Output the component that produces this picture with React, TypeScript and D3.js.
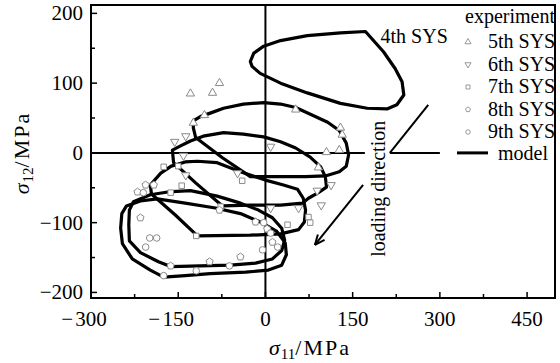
import React, { useEffect, useRef } from 'react';
import * as d3 from 'd3';

// model yield surfaces, [sigma11, sigma12] in MPa
const sys4 = [[172, 174], [129, 172], [72, 168], [26, 161], [-3, 153], [-20, 143], [-26, 131], [-23, 124], [-9, 114], [26, 100], [72, 86], [129, 71], [175, 64], [209, 63], [226, 69], [238, 83], [235, 102], [223, 121], [203, 145]];
const sys5 = [[-124, 46], [-112, 52], [-95, 57], [-72, 64], [-38, 70], [-3, 72], [26, 70], [52, 65], [81, 54], [107, 44], [127, 32], [139, 14], [143, -3], [139, -19], [127, -27], [103, -33], [69, -34], [26, -34], [-26, -34], [-74, -7], [-120, 22], [-124, 36]];
const sys6 = [[-160, 4], [-146, 10], [-129, 17], [-107, 24], [-72, 29], [-38, 27], [-3, 23], [26, 16], [52, 7], [77, -6], [95, -20], [103, -34], [105, -49], [91, -57], [74, -65], [64, -72], [26, -75], [-26, -75], [-74, -76], [-120, -43], [-158, -14]];
const sys7 = [[-162, -19], [-138, -13], [-117, -12], [-83, -14], [-43, -27], [0, -39], [31, -46], [55, -52], [65, -65], [69, -82], [67, -99], [57, -110], [26, -116], [-26, -118], [-117, -119], [-155, -89], [-196, -59], [-198, -46], [-180, -29]];
const sys8 = [[-227, -70], [-198, -60], [-168, -56], [-129, -54], [-83, -62], [-43, -72], [-12, -82], [12, -93], [28, -108], [33, -125], [28, -140], [12, -152], [-17, -158], [-60, -161], [-112, -162], [-163, -163], [-184, -156], [-215, -143], [-234, -126], [-235, -103], [-234, -82]];
const sys9 = [[-239, -76], [-215, -69], [-186, -66], [-138, -72], [-86, -79], [-43, -87], [-9, -99], [19, -112], [34, -129], [36, -146], [28, -161], [5, -168], [-34, -171], [-95, -173], [-138, -176], [-175, -178], [-198, -168], [-229, -152], [-246, -130], [-249, -108], [-247, -87]];

// experiment points
const exp5 = [[-129, 85], [-91, 86], [-79, 100], [-124, 43], [-105, 54], [52, 62], [129, 36], [132, 26], [127, 4], [105, 1], [91, -21]];
const exp6 = [[-137, 24], [-156, 16], [-141, -4], [9, 9], [89, -54], [113, -46], [96, -75], [57, -79], [9, -79], [-137, -32], [-48, -29]];
const exp7 = [[-175, -20], [-150, -19], [-144, -47], [-163, -57], [-40, -40], [-77, -77], [-119, -119], [38, -103], [74, -92], [77, -100]];
const exp8 = [[-206, -46], [-192, -46], [-220, -56], [-215, -93], [-163, -162], [-96, -156], [-43, -149], [-17, -99], [3, -109], [12, -128], [-79, -82]];
const exp9 = [[-210, -57], [-199, -122], [-187, -122], [-206, -135], [-175, -176], [-119, -169], [-62, -162], [-3, -100], [9, -115], [21, -135], [-5, -139]];

const xTicks = [-300, -150, 0, 150, 300, 450];
const xMinor = [-225, -75, 75, 225, 375];
const yTicks = [-200, -100, 0, 100, 200];
const yMinor = [-150, -50, 50, 150];
const legendLabels = ['5th SYS', '6th SYS', '7th SYS', '8th SYS', '9th SYS'];

const pentagon = {
  draw(ctx, size) {
    const r = Math.sqrt(size / 2.38);
    for (let i = 0; i < 5; i++) {
      const a = -Math.PI / 2 + (i * 2 * Math.PI) / 5;
      if (i === 0) ctx.moveTo(r * Math.cos(a), r * Math.sin(a));
      else ctx.lineTo(r * Math.cos(a), r * Math.sin(a));
    }
    ctx.closePath();
  }
};

const App = () => {
  const svgRef = useRef(null);

  useEffect(() => {
    const left = 91, right = 555, top = 5, bottom = 298;
    const font = '"Liberation Serif", "Times New Roman", serif';

    const svg = d3.select(svgRef.current);
    svg.selectAll('*').remove();

    const x = d3.scaleLinear().domain([-300, 498]).range([left, right]);
    const y = d3.scaleLinear().domain([-208, 212]).range([bottom, top]);

    const g = svg.append('g').style('font-family', font).style('font-size', '20px');

    // zero lines
    g.append('line')
      .attr('x1', x(0)).attr('x2', x(0))
      .attr('y1', top).attr('y2', bottom)
      .attr('stroke', '#000').attr('stroke-width', 2);
    g.append('line')
      .attr('x1', left).attr('x2', x(171))
      .attr('y1', y(0)).attr('y2', y(0))
      .attr('stroke', '#000').attr('stroke-width', 2);
    g.append('line')
      .attr('x1', x(214)).attr('x2', x(300))
      .attr('y1', y(0)).attr('y2', y(0))
      .attr('stroke', '#000').attr('stroke-width', 2);
    g.append('line')
      .attr('x1', x(214)).attr('x2', x(280))
      .attr('y1', y(0)).attr('y2', y(69))
      .attr('stroke', '#000').attr('stroke-width', 2);

    // model curves
    const line = d3.line()
      .x(d => x(d[0]))
      .y(d => y(d[1]))
      .curve(d3.curveLinearClosed);

    [sys4, sys5, sys6, sys7, sys8, sys9].forEach(s => {
      g.append('path')
        .attr('d', line(s))
        .attr('fill', 'none')
        .attr('stroke', '#000')
        .attr('stroke-width', 3.2)
        .attr('stroke-linejoin', 'round');
    });

    // experiment markers
    const markers = [
      { data: exp5, type: d3.symbolTriangle, size: 30, rot: 0 },
      { data: exp6, type: d3.symbolTriangle, size: 30, rot: 180 },
      { data: exp7, type: d3.symbolSquare, size: 30, rot: 0 },
      { data: exp8, type: pentagon, size: 34, rot: 0 },
      { data: exp9, type: d3.symbolCircle, size: 34, rot: 0 }
    ];

    markers.forEach(m => {
      g.selectAll(null)
        .data(m.data)
        .enter()
        .append('path')
        .attr('d', d3.symbol().type(m.type).size(m.size)())
        .attr('transform', d => `translate(${x(d[0])},${y(d[1])}) rotate(${m.rot})`)
        .attr('fill', '#fff')
        .attr('stroke', '#8a8a8a')
        .attr('stroke-width', 1);
    });

    // loading direction arrow
    const ax1 = x(168), ay1 = y(-46), ax2 = x(85), ay2 = y(-132);
    g.append('line')
      .attr('x1', ax1).attr('y1', ay1).attr('x2', ax2).attr('y2', ay2)
      .attr('stroke', '#000').attr('stroke-width', 2);
    const ang = Math.atan2(ay1 - ay2, ax1 - ax2);
    [0.4, -0.4].forEach(da => {
      g.append('line')
        .attr('x1', ax2).attr('y1', ay2)
        .attr('x2', ax2 + 11 * Math.cos(ang + da))
        .attr('y2', ay2 + 11 * Math.sin(ang + da))
        .attr('stroke', '#000').attr('stroke-width', 2);
    });

    g.append('text')
      .attr('transform', `translate(${x(205)},${y(-149)}) rotate(-90)`)
      .text('loading direction');

    g.append('text')
      .attr('x', x(198)).attr('y', y(158))
      .text('4th SYS');

    // frame
    g.append('rect')
      .attr('x', left).attr('y', top)
      .attr('width', right - left).attr('height', bottom - top)
      .attr('fill', 'none').attr('stroke', '#000').attr('stroke-width', 2);

    // ticks
    xTicks.forEach(t => {
      g.append('line')
        .attr('x1', x(t)).attr('x2', x(t))
        .attr('y1', bottom).attr('y2', bottom - 6)
        .attr('stroke', '#000').attr('stroke-width', 1.5);
      g.append('text')
        .attr('x', x(t)).attr('y', 326)
        .attr('text-anchor', 'middle')
        .style('font-size', '21px')
        .text(Math.abs(t));
      if (t < 0) {
        g.append('text')
          .attr('x', x(t) - 18).attr('y', 326)
          .attr('text-anchor', 'end')
          .style('font-size', '21px')
          .text('\u2212');
      }
    });
    xMinor.forEach(t => {
      g.append('line')
        .attr('x1', x(t)).attr('x2', x(t))
        .attr('y1', bottom).attr('y2', bottom - 4)
        .attr('stroke', '#000').attr('stroke-width', 1.5);
    });
    yTicks.forEach(t => {
      g.append('line')
        .attr('x1', left).attr('x2', left + 6)
        .attr('y1', y(t)).attr('y2', y(t))
        .attr('stroke', '#000').attr('stroke-width', 1.5);
      g.append('text')
        .attr('x', 83).attr('y', y(t) + 7)
        .attr('text-anchor', 'end')
        .style('font-size', '21px')
        .text(t < 0 ? `\u2212${-t}` : t);
    });
    yMinor.forEach(t => {
      g.append('line')
        .attr('x1', left).attr('x2', left + 4)
        .attr('y1', y(t)).attr('y2', y(t))
        .attr('stroke', '#000').attr('stroke-width', 1.5);
    });

    // axis titles
    const xt = g.append('text')
      .attr('x', 310).attr('y', 355)
      .attr('text-anchor', 'middle')
      .style('font-size', '22px');
    xt.append('tspan').attr('font-style', 'italic').text('\u03c3');
    xt.append('tspan').style('font-size', '15px').attr('dy', 4).attr('dx', 1).text('11');
    xt.append('tspan').attr('dy', -4).attr('letter-spacing', 2).text('/MPa');

    const yt = g.append('text')
      .attr('transform', `translate(29,153) rotate(-90)`)
      .attr('text-anchor', 'middle')
      .style('font-size', '22px');
    yt.append('tspan').attr('font-style', 'italic').text('\u03c3');
    yt.append('tspan').style('font-size', '15px').attr('dy', 4).attr('dx', 1).text('12');
    yt.append('tspan').attr('dy', -4).attr('letter-spacing', 2).text('/MPa');

    // legend
    g.append('text').attr('x', 465).attr('y', 23).text('experiment');
    markers.forEach((m, i) => {
      const by = 48 + i * 22.5;
      g.append('path')
        .attr('d', d3.symbol().type(m.type).size(16)())
        .attr('transform', `translate(468,${by - 6}) rotate(${m.rot})`)
        .attr('fill', '#fff')
        .attr('stroke', '#999')
        .attr('stroke-width', 1);
      g.append('text').attr('x', 488).attr('y', by).text(legendLabels[i]);
    });
    g.append('line')
      .attr('x1', 457).attr('x2', 488)
      .attr('y1', y(0)).attr('y2', y(0))
      .attr('stroke', '#000').attr('stroke-width', 3);
    g.append('text').attr('x', 498).attr('y', 160).text('model');
  }, []);

  return (
    <svg
      ref={svgRef}
      width={560}
      height={363}
      style={{ position: 'absolute', left: 0, top: 0, background: '#fff' }}
    />
  );
};

export default App;
